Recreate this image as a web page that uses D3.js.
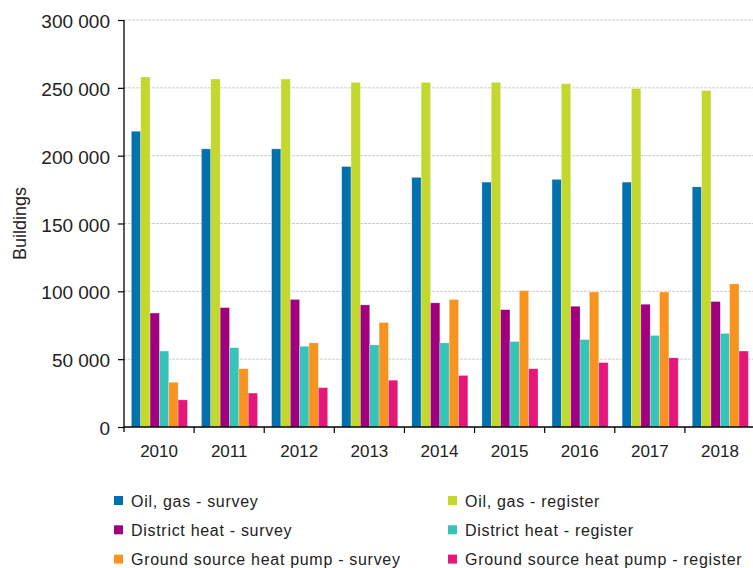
<!DOCTYPE html>
<html><head><meta charset="utf-8">
<script src="https://cdn.jsdelivr.net/npm/d3@7"></script>
<style>body{margin:0;background:#fff} svg{display:block}</style>
</head><body><svg id="c" width="753" height="568"></svg>
<script>
const years = ["2010","2011","2012","2013","2014","2015","2016","2017","2018"];
const seriesNames = ["Oil, gas - survey","Oil, gas - register","District heat - survey","District heat - register","Ground source heat pump - survey","Ground source heat pump - register"];
const oilGasSurvey     = [218000, 205000, 205000, 192000, 184000, 180500, 182500, 180500, 177000];
const oilGasRegister   = [258000, 256500, 256500, 254000, 254000, 254000, 253000, 249500, 248000];
const districtSurvey   = [84000, 88000, 94000, 90000, 91500, 86500, 89000, 90500, 92500];
const districtRegister = [56000, 58500, 59500, 60500, 62000, 63000, 64500, 67500, 69000];
const gshpSurvey       = [33000, 43000, 62000, 77000, 94000, 100500, 99500, 99500, 105500];
const gshpRegister     = [20000, 25000, 29000, 34500, 38000, 43000, 47500, 51000, 56000];
const yTickValues = [0, 50000, 100000, 150000, 200000, 250000, 300000];
const yTitle = "Buildings";

const colors = ["#0071AE","#C2D82F","#A0007E","#36C3B8","#F8931F","#E5187A"];
const seriesValues = [oilGasSurvey, oilGasRegister, districtSurvey, districtRegister, gshpSurvey, gshpRegister];

const svg = d3.select("#c");
const pLeft = 124, pRight = 755, pTop = 20, pBottom = 427;

const y = d3.scaleLinear().domain([0, 300000]).range([pBottom, pTop]);
const x0 = d3.scaleBand().domain(years).range([pLeft, pRight]).padding(0);
const bw = x0.bandwidth();
const x1 = d3.scaleBand().domain(d3.range(seriesNames.length)).range([bw*0.105, bw*0.905]).padding(0);

const fmt = v => d3.format(",")(v).replace(/,/g, " ");

// gridlines
svg.append("g").selectAll("line").data(yTickValues.filter(d => d > 0)).join("line")
  .attr("x1", pLeft).attr("x2", 753)
  .attr("y1", d => y(d)).attr("y2", d => y(d))
  .attr("stroke", "#cdcdcd").attr("stroke-width", 1).attr("stroke-dasharray", "3,1");

// bars
const groups = svg.append("g").selectAll("g").data(years).join("g")
  .attr("transform", d => `translate(${x0(d)},0)`);
groups.selectAll("rect").data((d, i) => seriesValues.map((s, k) => ({k, v: s[i]}))).join("rect")
  .attr("x", d => x1(d.k)).attr("width", x1.bandwidth())
  .attr("y", d => y(d.v)).attr("height", d => y(0) - y(d.v))
  .attr("fill", d => colors[d.k])
  .attr("stroke", "#ffffff").attr("stroke-opacity", 0.45).attr("stroke-width", 0.6);

// y axis
const yAxis = d3.axisLeft(y).tickValues(yTickValues).tickFormat(fmt).tickSize(6).tickPadding(8);
const gy = svg.append("g").attr("transform", `translate(${pLeft},0)`).call(yAxis);
gy.select(".domain").attr("stroke", "#000").attr("stroke-width", 1.3).attr("d", `M0,${pTop}V${pBottom + 5}`);
gy.selectAll(".tick line").attr("stroke", "#000").attr("stroke-width", 1.2);
gy.selectAll("text").attr("font-family", "'Liberation Sans', Arial, sans-serif").attr("font-size", 19).attr("fill", "#222").attr("dy", "0.4em");

// x axis
const xAxis = d3.axisBottom(x0).tickSize(0).tickPadding(18);
const gx = svg.append("g").attr("transform", `translate(0,${pBottom})`).call(xAxis);
gx.select(".domain").attr("stroke", "#000").attr("stroke-width", 1.3).attr("d", `M${pLeft},0H${753}`);
gx.selectAll("text").attr("font-family", "'Liberation Sans', Arial, sans-serif").attr("font-size", 17).attr("fill", "#222");
// boundary ticks
gx.append("g").selectAll("line").data(years.slice(1)).join("line")
  .attr("x1", d => x0(d)).attr("x2", d => x0(d)).attr("y1", 0).attr("y2", 6)
  .attr("stroke", "#000").attr("stroke-width", 1.2);

// y title
svg.append("text").attr("transform", `translate(26,${(pTop + pBottom) / 2}) rotate(-90)`)
  .attr("text-anchor", "middle").attr("font-family", "'Liberation Sans', Arial, sans-serif")
  .attr("font-size", 18).attr("fill", "#222").text(yTitle);

// legend
const legendOrder = [0, 2, 4, 1, 3, 5];
const leg = svg.append("g").selectAll("g").data(legendOrder).join("g")
  .attr("transform", (k, i) => `translate(${i < 3 ? 114 : 448},${500.5 + (i % 3) * 29.3})`);
leg.append("rect").attr("x", 0).attr("y", -4.5).attr("width", 9).attr("height", 9).attr("fill", k => colors[k]);
leg.append("text").attr("x", 17).attr("y", 6).attr("font-family", "'Liberation Sans', Arial, sans-serif")
  .attr("font-size", 16).attr("letter-spacing", "0.7px").attr("fill", "#222").text(k => seriesNames[k]);
</script>
</body></html>
